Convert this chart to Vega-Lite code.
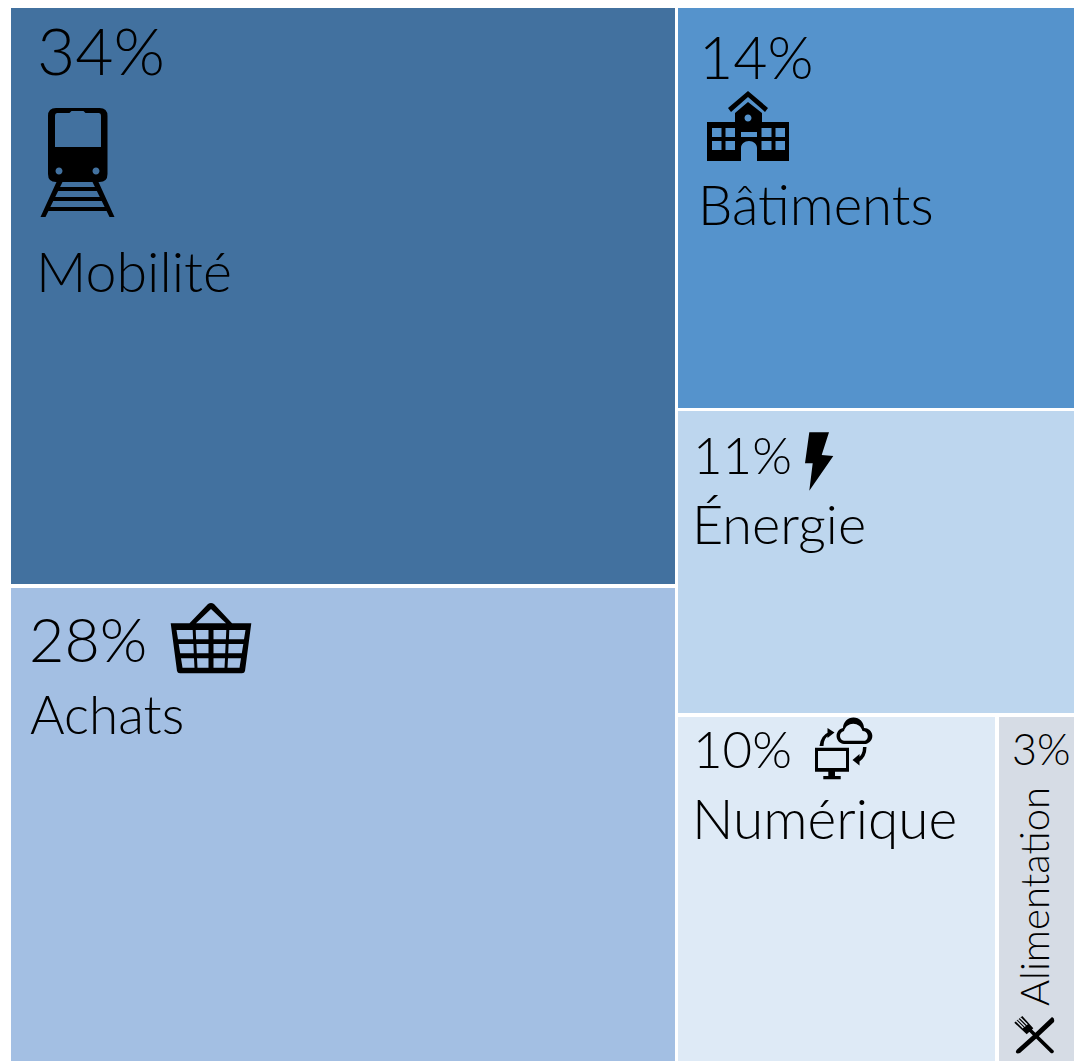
{
"$schema":"https://vega.github.io/schema/vega-lite/v6.json",
"width":1074,"height":1061,"padding":0,"autosize":{"type":"none"},"background":"white",
"config":{"view":{"stroke":null},"text":{"font":"Lato","fontWeight":300}},
"datasets":{
"cells":[
{"name":"Mobilité","share":34,"x0":11,"x1":675,"y0":8,"y1":584},
{"name":"Achats","share":28,"x0":11,"x1":675,"y0":588,"y1":1061},
{"name":"Bâtiments","share":14,"x0":678,"x1":1074,"y0":8,"y1":408},
{"name":"Énergie","share":11,"x0":678,"x1":1074,"y0":411,"y1":713},
{"name":"Numérique","share":10,"x0":678,"x1":995,"y0":717,"y1":1061},
{"name":"Alimentation","share":3,"x0":999,"x1":1074,"y0":717,"y1":1061}],
"labels":[
{"text":"34%","x":37,"y":75},{"text":"Mobilité","x":36,"y":292},
{"text":"28%","x":29,"y":662},{"text":"Achats","x":30,"y":734},
{"text":"14%","x":699,"y":79},{"text":"Bâtiments","x":698,"y":225},
{"text":"11%","x":693,"y":474},{"text":"Énergie","x":692,"y":544},
{"text":"10%","x":693,"y":768},{"text":"Numérique","x":692,"y":839},
{"text":"3%","x":1012,"y":765}],
"rotated":[{"text":"Alimentation","x":1049,"y":1006}],
"icons":[
{"name":"Mobilité","x":77.5,"y":162},{"name":"Achats","x":211,"y":638},
{"name":"Bâtiments","x":748,"y":126},{"name":"Énergie","x":819,"y":461},
{"name":"Numérique","x":844,"y":750},{"name":"Alimentation","x":1035,"y":1035}]
},
"layer":[
{"data":{"name":"cells"},"mark":{"type":"rect","stroke":null},
"encoding":{
"x":{"field":"x0","type":"quantitative","scale":{"domain":[0,1074]},"axis":null},
"x2":{"field":"x1"},
"y":{"field":"y0","type":"quantitative","scale":{"domain":[1061,0]},"axis":null},
"y2":{"field":"y1"},
"color":{"field":"name","type":"nominal","legend":null,"scale":{"domain":["Mobilité","Achats","Bâtiments","Énergie","Numérique","Alimentation"],"range":["#42719f","#a3bfe3","#5593cc","#bdd6ee","#deeaf6","#d6dce5"]}}}},
{"data":{"name":"labels"},"mark":{"type":"text","align":"left","baseline":"alphabetic","color":"black"},
"encoding":{
"x":{"field":"x","type":"quantitative","scale":{"domain":[0,1074]},"axis":null},
"y":{"field":"y","type":"quantitative","scale":{"domain":[1061,0]},"axis":null},
"text":{"field":"text"},
"size":{"field":"text","type":"ordinal","legend":null,"scale":{"type":"ordinal","domain":["34%","Mobilité","28%","Achats","14%","Bâtiments","11%","Énergie","10%","Numérique","3%"],"range":[66,55.5,61,53,59,54.5,51,54,51,55,43]}}}},
{"data":{"name":"rotated"},"mark":{"type":"text","align":"left","baseline":"alphabetic","angle":270,"color":"black","fontSize":40},
"encoding":{
"x":{"field":"x","type":"quantitative","scale":{"domain":[0,1074]},"axis":null},
"y":{"field":"y","type":"quantitative","scale":{"domain":[1061,0]},"axis":null},
"text":{"field":"text"}}},
{"data":{"name":"icons"},"mark":{"type":"point","filled":true,"size":4,"opacity":1,"color":"black","strokeWidth":0},
"encoding":{
"x":{"field":"x","type":"quantitative","scale":{"domain":[0,1074]},"axis":null},
"y":{"field":"y","type":"quantitative","scale":{"domain":[1061,0]},"axis":null},
"shape":{"field":"name","type":"nominal","legend":null,"scale":{"domain":["Mobilité","Achats","Bâtiments","Énergie","Numérique","Alimentation"],"range":[
"M-21.5 -54H22Q30 -54 30 -46V12Q30 20 22 20H-21.5Q-29.5 20 -29.5 12V-46Q-29.5 -54 -21.5 -54ZM-20 -49Q-22.5 -49 -22.5 -46V-15H23.5V-46Q23.5 -49 21 -49H8L6 -51H-6L-8 -49ZM-22 9A3.5 3.5 0 1 0 -15 9A3.5 3.5 0 1 0 -22 9ZM15 9A3.5 3.5 0 1 0 22 9A3.5 3.5 0 1 0 15 9ZM-21 20H-15L-32 55H-37ZM15 20H21L37 55H32ZM-23 25H23V29H-23ZM-27 35H27V39H-27ZM-32 45H32V49H-32Z",
"M-40.3 -14.7H40.3L34 33Q33.5 35.3 31 35.3H-31Q-33.5 35.3 -34 33ZM-34.5 -8L-33 1.3L-17.9 1.3L-18.3 -8ZM-15.3 -8L-14.9 1.3L-2.5 1.3L-2.5 -8ZM2.5 -8L2.5 1.3L14.9 1.3L15.3 -8ZM18.3 -8L17.9 1.3L33 1.3L34.5 -8ZM-32.3 6L-30.8 15.3L-17.2 15.3L-17.6 6ZM-14.6 6L-14.2 15.3L-2.5 15.3L-2.5 6ZM2.5 6L2.5 15.3L14.2 15.3L14.6 6ZM17.6 6L17.2 15.3L30.8 15.3L32.3 6ZM-30 20.3L-28.5 29.7L-16.5 29.7L-17 20.3ZM-14 20.3L-13.5 29.7L-2.5 29.7L-2.5 20.3ZM2.5 20.3L2.5 29.7L13.5 29.7L14 20.3ZM17 20.3L16.5 29.7L28.5 29.7L30 20.3ZM-21.5 -14.7L-3 -34Q0 -36 3 -34L21 -14.7H15L0 -29L-15 -14.7Z",
"M0 -35L20 -18L17 -14L0 -29L-17 -14L-20 -18ZM0 -24L14 -13V-4H41V35H9V22A8 7 0 0 0 -7 22V35H-41V-4H-13V-13ZM-3.5 -8A3.5 3.5 0 1 0 3.5 -8A3.5 3.5 0 1 0 -3.5 -8ZM-36 2V11H-26.5V2ZM-22.5 2V11H-13V2ZM-36 15V24H-26.5V15ZM-22.5 15V24H-13V15ZM13.5 2V11H23.5V2ZM27.5 2V11H37V2ZM13.5 15V24H23.5V15ZM27.5 15V24H37V15ZM-7 6V11H9V6Z",
"M-9.7 -28.7H10L2.7 -6L14.3 -5L-9.7 29.7L-6.3 2.3H-14Z",
"M-29 -2.3H5V21.7H-29ZM-26 1V18H2V1ZM-15.7 21.7H-9V26H-15.7ZM-20.7 26H-3.3V29.3H-20.7ZM0 -6A8.1 8.1 0 0 1 -1 -22A10.5 10.5 0 0 1 20 -22A8.1 8.1 0 0 1 22 -6ZM0 -9.2H21A5.2 5.2 0 0 0 18.5 -19A9.5 9.5 0 0 0 0 -19A5 5 0 0 0 0 -9.2ZM-24.5 -4Q-23.5 -14.5 -15 -18L-15 -14.5Q-20.5 -12 -20.5 -4ZM-16.5 -22L-9.5 -17.5L-16.5 -12ZM19 -3L22.5 -3Q22.5 7 15 12L13.5 8.5Q19 5 19 -3ZM15.5 4L15.5 15.5L8.5 10Z",
"M-20.7 -12.3L-12.7 -19L-1.7 -6.7L-8.3 -0.7ZM-18.2 -14.5L-19.2 -13.5L-12.2 -6.5L-11.2 -7.5ZM-16.2 -16.1L-17.2 -15.1L-10.2 -8.1L-9.2 -9.1ZM-14.2 -17.8L-15.2 -16.8L-8.2 -9.8L-7.2 -10.8ZM-5.8 -3.3L-3.3 -5.8L18.5 15.5Q19.5 17 18 18Q16.5 18.7 15.5 17.7ZM17 -18Q20 -17 19 -13L3 2L-15 18Q-18 19 -19 17.5Q-19.5 16 -18 14.5L-3 1Z"
]}}}}
]}
